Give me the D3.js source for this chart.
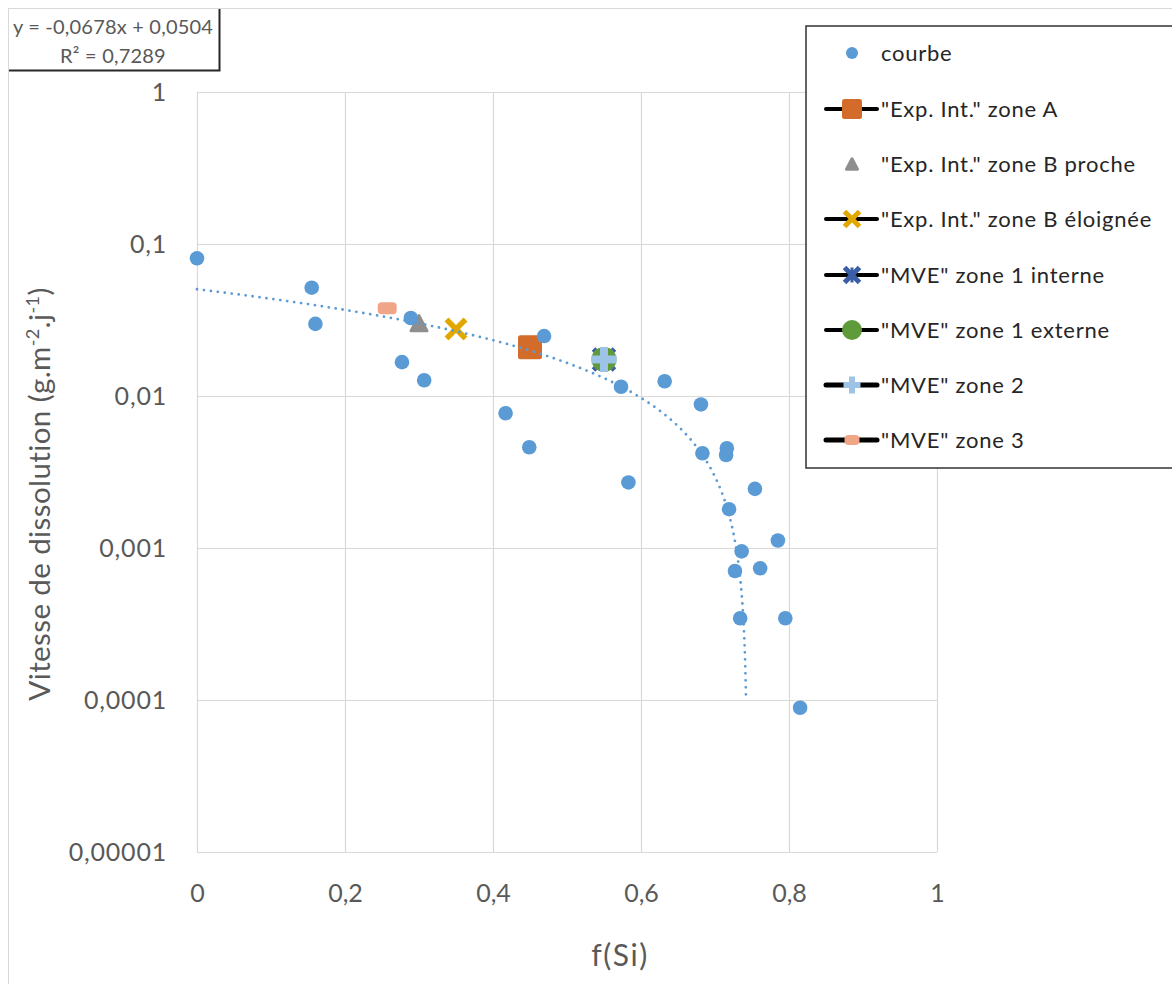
<!DOCTYPE html>
<html><head><meta charset="utf-8">
<script src="https://cdn.jsdelivr.net/npm/d3@7"></script>
<style>
html,body{margin:0;padding:0;background:#fff;}
svg{display:block;}
text{font-family:Lato,"Open Sans",sans-serif;}
</style></head>
<body><svg id="c" width="1172" height="984"></svg>
<script>
// ---- data ----
const courbeX = [0, 0.155, 0.160, 0.277, 0.289, 0.307, 0.417, 0.449, 0.469, 0.573, 0.583, 0.632, 0.681, 0.683, 0.716, 0.715, 0.754, 0.719, 0.785, 0.736, 0.727, 0.761, 0.734, 0.795, 0.815];
const courbeY = [0.0805, 0.0516, 0.0298, 0.0167, 0.0326, 0.0127, 0.0077, 0.0046, 0.0248, 0.0115, 0.0027, 0.0125, 0.0088, 0.0042, 0.00453, 0.00409, 0.00245, 0.0018, 0.00112, 0.00095, 0.000706, 0.000735, 0.000345, 0.000345, 0.0000889];
const zoneAX = [0.45], zoneAY = [0.0209];
const zoneBprocheX = [0.30], zoneBprocheY = [0.0301];
const zoneBeloigneeX = [0.35], zoneBeloigneeY = [0.0276];
const mve1intX = [0.55], mve1intY = [0.0174];
const mve1extX = [0.55], mve1extY = [0.0174];
const mve2X = [0.55], mve2Y = [0.0174];
const mve3X = [0.257], mve3Y = [0.0378];
const trendSlope = -0.0678, trendIntercept = 0.0504;
const xTicks = [0, 0.2, 0.4, 0.6, 0.8, 1];
const xTickLabels = ["0", "0,2", "0,4", "0,6", "0,8", "1"];
const yTicks = [1, 0.1, 0.01, 0.001, 0.0001, 0.00001];
const yTickLabels = ["1", "0,1", "0,01", "0,001", "0,0001", "0,00001"];
const legendLabels = ["courbe", "\"Exp. Int.\" zone A", "\"Exp. Int.\" zone B proche", "\"Exp. Int.\" zone B éloignée", "\"MVE\" zone 1 interne", "\"MVE\" zone 1 externe", "\"MVE\" zone 2", "\"MVE\" zone 3"];
const equationLines = ["y = -0,0678x + 0,0504", "R² = 0,7289"];

// ---- layout ----
const svg = d3.select("#c");
const X0 = 197, X1 = 937, Y0 = 92, Y1 = 852;
const x = d3.scaleLinear().domain([0, 1]).range([X0, X1]);
const y = d3.scaleLog().domain([0.00001, 1]).range([Y1, Y0]);
const txt = "#595959";
const C = {blue:"#5B9BD5", orange:"#D36B2B", gray:"#8E8E8E", gold:"#E2A800", navy:"#3B5EA6", green:"#5F9B3B", lblue:"#9DC3E6", pink:"#F1A587"};

// outer chart border
svg.append("rect").attr("x", 8.5).attr("y", 8.5).attr("width", 1200).attr("height", 1200)
  .attr("fill", "#fff").attr("stroke", "#D9D9D9").attr("stroke-width", 1);

// gridlines
const grid = svg.append("g");
grid.selectAll("line.v").data(xTicks).join("line")
  .attr("x1", d => Math.round(x(d)) + 0.5).attr("x2", d => Math.round(x(d)) + 0.5)
  .attr("y1", Y0).attr("y2", Y1).attr("stroke", "#D9D9D9").attr("stroke-width", 1.2);
grid.selectAll("line.h").data(yTicks).join("line")
  .attr("y1", d => Math.round(y(d)) + 0.5).attr("y2", d => Math.round(y(d)) + 0.5)
  .attr("x1", X0).attr("x2", X1).attr("stroke", "#D9D9D9").attr("stroke-width", 1.2);

// axes (labels only)
const xAxis = d3.axisBottom(x).tickValues(xTicks).tickFormat((d, i) => xTickLabels[i]).tickSize(0).tickPadding(0);
const gx = svg.append("g").attr("transform", `translate(0,${Y1})`).call(xAxis);
gx.select(".domain").remove();
gx.selectAll("text").attr("y", 41).attr("dy", "0.35em").attr("fill", txt).style("font-size", "25px").style("font-family", "Lato");

const yAxis = d3.axisLeft(y).tickValues(yTicks).tickFormat((d, i) => yTickLabels[i]).tickSize(0).tickPadding(0);
const gy = svg.append("g").call(yAxis);
gy.select(".domain").remove();
gy.selectAll("text").attr("x", 167).attr("dy", "0.35em").attr("fill", txt).style("font-size", "25px").style("font-family", "Lato").attr("text-anchor", "end").style("letter-spacing", "0.8px");

// axis titles
svg.append("text").attr("x", 620).attr("y", 955).attr("text-anchor", "middle").attr("dy", "0.35em")
  .attr("fill", txt).style("font-size", "30px").style("letter-spacing", "1.5px").text("f(Si)");
const yt = svg.append("text").attr("transform", "translate(40,494) rotate(-90)").attr("text-anchor", "middle").attr("dy", "0.35em")
  .attr("fill", txt).style("font-size", "29.5px").style("letter-spacing", "0.4px");
yt.append("tspan").text("Vitesse de dissolution (g.m");
yt.append("tspan").attr("baseline-shift", "super").style("font-size", "18px").text("-2");
yt.append("tspan").text(".j");
yt.append("tspan").attr("baseline-shift", "super").style("font-size", "18px").text("-1");
yt.append("tspan").text(")");

// ---- marker drawers ----
function square(g, cx, cy, s, col) {
  g.append("rect").attr("x", cx - s/2).attr("y", cy - s/2).attr("width", s).attr("height", s).attr("rx", 2.5).attr("fill", col);
}
function tri(g, cx, cy, s, col) {
  const h = s * 0.95;
  g.append("path").attr("d", `M${cx},${cy - h/2} L${cx + s/2},${cy + h/2} L${cx - s/2},${cy + h/2} Z`)
    .attr("fill", col).attr("stroke", col).attr("stroke-width", 3).attr("stroke-linejoin", "round");
}
function cross(g, cx, cy, s, col, w) {
  const r = s/2;
  g.append("path").attr("d", `M${cx-r},${cy-r} L${cx+r},${cy+r} M${cx+r},${cy-r} L${cx-r},${cy+r}`)
    .attr("stroke", col).attr("stroke-width", w).attr("fill", "none");
}
function star(g, cx, cy, s, col) {
  cross(g, cx, cy, s, col, 5);
  g.append("path").attr("d", `M${cx},${cy - s/2} L${cx},${cy + s/2}`).attr("stroke", col).attr("stroke-width", 3);
}
function circ(g, cx, cy, r, col) {
  g.append("circle").attr("cx", cx).attr("cy", cy).attr("r", r).attr("fill", col);
}
function plus(g, cx, cy, s, w, col) {
  g.append("rect").attr("x", cx - s/2).attr("y", cy - w/2).attr("width", s).attr("height", w).attr("fill", col);
  g.append("rect").attr("x", cx - w/2).attr("y", cy - s/2).attr("width", w).attr("height", s).attr("fill", col);
}
function dash(g, cx, cy, wdt, hgt, col) {
  g.append("rect").attr("x", cx - wdt/2).attr("y", cy - hgt/2).attr("width", wdt).attr("height", hgt).attr("rx", 4).attr("fill", col);
}

// ---- series markers ----
const pg = svg.append("g");
d3.zip(mve1intX, mve1intY).forEach(([a, b]) => star(pg, x(a), y(b), 21, C.navy));
d3.zip(mve1extX, mve1extY).forEach(([a, b]) => circ(pg, x(a), y(b), 12.5, C.green));
d3.zip(mve2X, mve2Y).forEach(([a, b]) => plus(pg, x(a), y(b), 25, 8, C.lblue));
d3.zip(zoneAX, zoneAY).forEach(([a, b]) => square(pg, x(a), y(b), 24, C.orange));
d3.zip(zoneBprocheX, zoneBprocheY).forEach(([a, b]) => tri(pg, x(a), y(b), 16, C.gray));
d3.zip(zoneBeloigneeX, zoneBeloigneeY).forEach(([a, b]) => cross(pg, x(a), y(b), 19, C.gold, 5.5));
d3.zip(mve3X, mve3Y).forEach(([a, b]) => dash(pg, x(a), y(b), 19, 12, C.pink));

// courbe
svg.append("g").selectAll("circle").data(d3.zip(courbeX, courbeY)).join("circle")
  .attr("cx", d => x(d[0])).attr("cy", d => y(d[1])).attr("r", 7.3).attr("fill", C.blue);

// trendline (from displayed equation)
const xEnd = (trendIntercept - 0.0001) / (-trendSlope);
const tpts = d3.range(0, 2001).map(i => {
  const t = i / 2000;
  const xv = xEnd * (1 - Math.pow(1 - t, 2));
  return [xv, trendSlope * xv + trendIntercept];
});
svg.append("path").datum(tpts)
  .attr("d", d3.line().x(d => x(d[0])).y(d => y(d[1])))
  .attr("fill", "none").attr("stroke", C.blue).attr("stroke-width", 2.8)
  .attr("stroke-linecap", "round").attr("stroke-dasharray", "0 7");

// ---- legend ----
const lg = svg.append("g");
lg.append("rect").attr("x", 806).attr("y", 26).attr("width", 400).attr("height", 442)
  .attr("fill", "#fff").attr("stroke", "#3F3F3F").attr("stroke-width", 1.6);
const ly = [53, 109, 164, 219, 275, 330, 385, 440];
const lx = 852;
legendLabels.forEach((lab, i) => {
  const cy = ly[i];
  if (i !== 0 && i !== 2) {
    lg.append("line").attr("x1", 826).attr("x2", 877).attr("y1", cy).attr("y2", cy)
      .attr("stroke", "#000").attr("stroke-width", i >= 6 ? 5 : 4).attr("stroke-linecap", "round");
  }
  if (i === 0) circ(lg, lx, cy, 6, C.blue);
  if (i === 1) square(lg, lx, cy, 20, C.orange);
  if (i === 2) tri(lg, lx, cy, 11, C.gray);
  if (i === 3) cross(lg, lx, cy, 15, C.gold, 5);
  if (i === 4) star(lg, lx, cy, 15, C.navy);
  if (i === 5) circ(lg, lx, cy, 10, C.green);
  if (i === 6) plus(lg, lx, cy, 17, 6, C.lblue);
  if (i === 7) dash(lg, lx, cy, 15, 10, C.pink);
  lg.append("text").attr("x", 881).attr("y", cy).attr("dy", "0.35em").attr("fill", "#262626")
    .style("font-size", "22px").style("letter-spacing", "0.75px").text(lab);
});

// ---- equation box ----
const eg = svg.append("g");
eg.append("rect").attr("x", 9).attr("y", 9).attr("width", 210).attr("height", 61).attr("fill", "#fff");
eg.append("path").attr("d", "M219.5,9 L219.5,70.5 L9,70.5").attr("fill", "none").attr("stroke", "#262626").attr("stroke-width", 2);
eg.selectAll("text").data(equationLines).join("text")
  .attr("x", 113).attr("y", (d, i) => 27 + i * 29).attr("dy", "0.35em").attr("text-anchor", "middle")
  .attr("fill", txt).style("font-size", "20px").style("letter-spacing", "0.2px").text(d => d);
</script></body></html>
